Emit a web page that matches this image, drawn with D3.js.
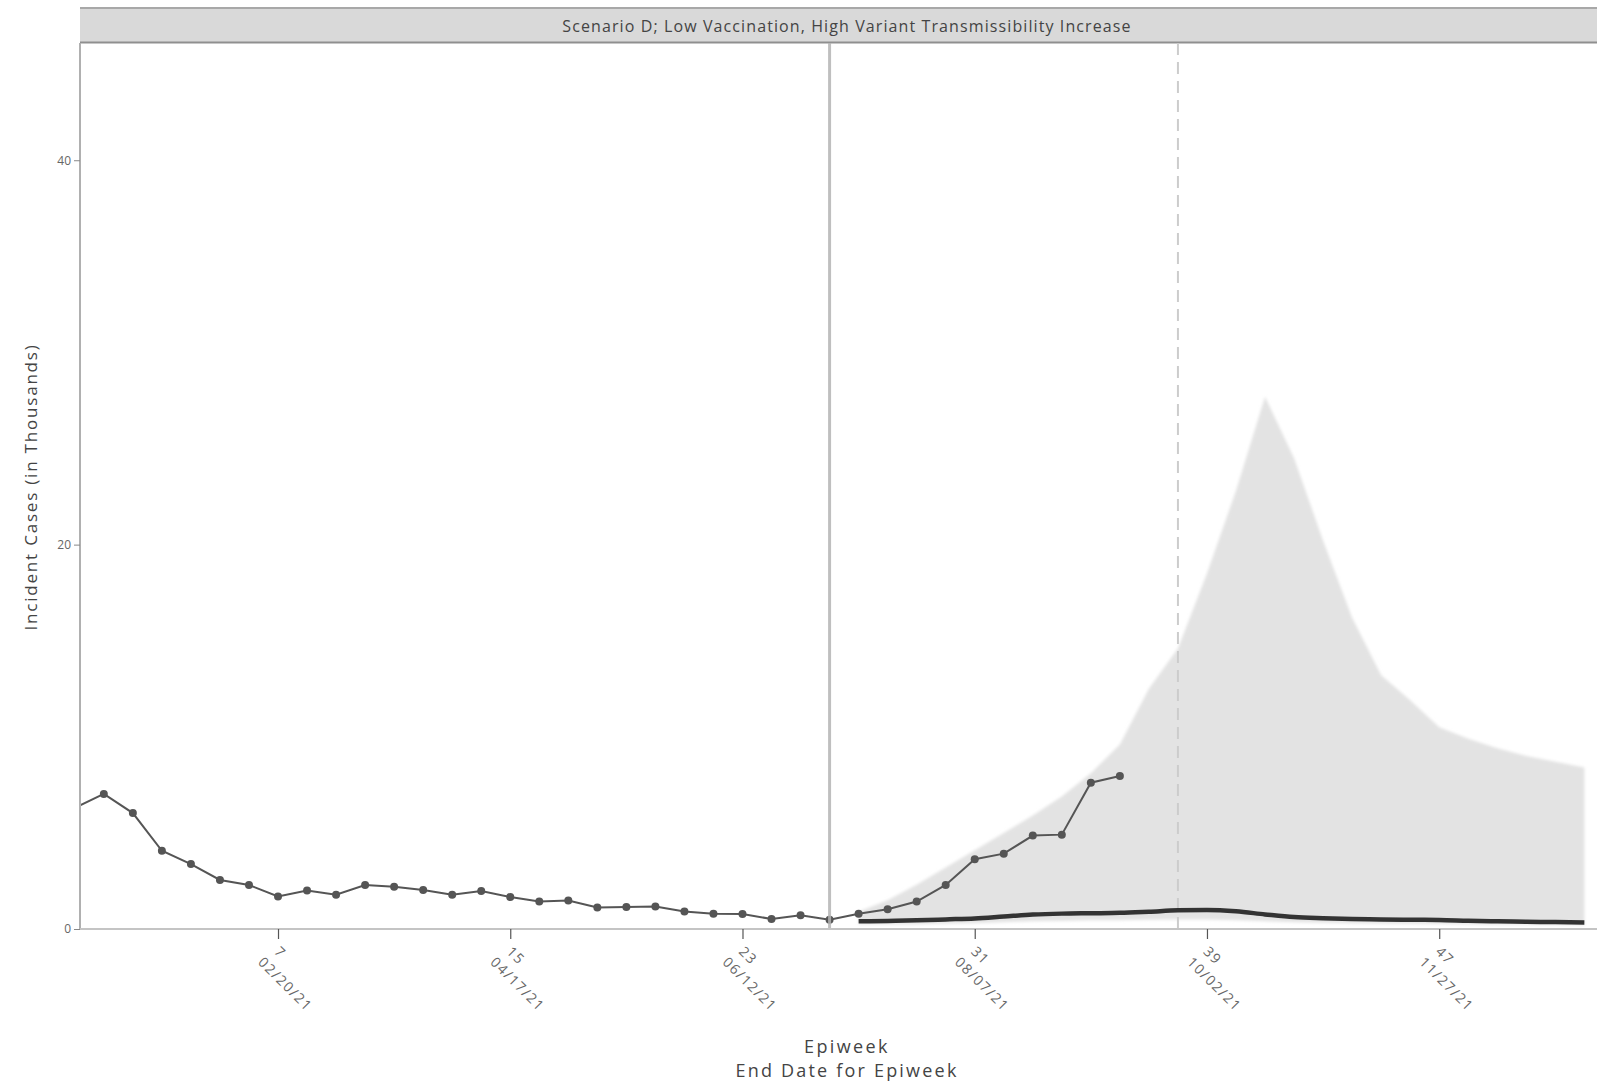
<!DOCTYPE html>
<html>
<head>
<meta charset="utf-8">
<script src="https://cdn.jsdelivr.net/npm/d3@7"></script>
<style>
  html, body { margin: 0; padding: 0; background: #fff; }
  svg { display: block; font-family: "Open Sans", sans-serif; }
</style>
</head>
<body>
<div class="view-container"></div>
<script>
'use strict';

// observed weekly cases (thousands), epiweek index
var obsWeeks = [0, 1, 2, 3, 4, 5, 6, 7, 8, 9, 10, 11, 12, 13, 14, 15, 16, 17, 18,
	19, 20, 21, 22, 23, 24, 25, 26, 27, 28, 29, 30, 31, 32, 33, 34, 35, 36];
var obsCases = [6.3, 7.03, 6.03, 4.07, 3.38, 2.55, 2.29, 1.69, 2.0, 1.78, 2.29, 2.2, 2.03,
	1.78, 1.98, 1.66, 1.43, 1.48, 1.12, 1.14, 1.17, 0.91, 0.79, 0.78, 0.52, 0.71, 0.48,
	0.79, 1.03, 1.43, 2.29, 3.63, 3.92, 4.86, 4.91, 7.61, 7.96];

// projection for scenario D
var projWeeks = [27, 28, 29, 30, 31, 32, 33, 34, 35, 36, 37, 38, 39, 40, 41, 42, 43,
	44, 45, 46, 47, 48, 49, 50, 51, 52];
var projMedian = [0.40, 0.42, 0.45, 0.50, 0.55, 0.65, 0.75, 0.80, 0.82, 0.84, 0.90, 0.97,
	0.99, 0.92, 0.76, 0.62, 0.56, 0.52, 0.50, 0.48, 0.47, 0.43, 0.40, 0.38, 0.36, 0.34];
var projUpper = [0.9, 1.5, 2.3, 3.2, 4.1, 5.0, 5.9, 6.9, 8.1, 9.6, 12.5, 14.6, 18.5, 22.8,
	27.7, 24.5, 20.2, 16.2, 13.2, 11.9, 10.5, 9.9, 9.4, 9.0, 8.7, 8.4];
var projLower = [0.25, 0.25, 0.25, 0.28, 0.30, 0.35, 0.40, 0.42, 0.45, 0.45, 0.48, 0.50,
	0.50, 0.45, 0.40, 0.35, 0.32, 0.30, 0.28, 0.27, 0.26, 0.25, 0.24, 0.23, 0.22, 0.20];

var xTickWeeks = [7, 15, 23, 31, 39, 47];
var xTickDates = ['02/20/21', '04/17/21', '06/12/21', '08/07/21', '10/02/21', '11/27/21'];
var yTicks = [0, 20, 40];

var projectionStartWeek = 26;
var dashedWeek = 38;
var panelTitle = 'Scenario D; Low Vaccination, High Variant Transmissibility Increase';

var WIDTH = 1597, HEIGHT = 1084;
var TEXT = '#444444';
var BAND = '#e3e3e3';
var OBS = '#555555';
var MEDIAN = '#333333';

var plot = { left: 80, right: 1614, top: 43, bottom: 929 };

var x = d3.scaleLinear().domain([0, 53]).range([74.8, 74.8 + 53 * 29.03]);
var y = d3.scaleLinear().domain([0, 46.1]).range([plot.bottom, plot.top]);

var svg = d3.select('.view-container').append('svg')
	.attr('width', WIDTH)
	.attr('height', HEIGHT);

svg.append('rect').attr('width', WIDTH).attr('height', HEIGHT).attr('fill', '#fff');

var defs = svg.append('defs');
defs.append('clipPath').attr('id', 'plot-clip')
	.append('rect')
	.attr('x', plot.left).attr('y', plot.top)
	.attr('width', plot.right - plot.left).attr('height', plot.bottom - plot.top);
defs.append('filter').attr('id', 'soft')
	.attr('x', '-5%').attr('y', '-5%').attr('width', '110%').attr('height', '110%')
	.append('feGaussianBlur').attr('stdDeviation', 1.8);

// facet strip
svg.append('rect')
	.attr('x', plot.left).attr('y', 8)
	.attr('width', plot.right - plot.left).attr('height', 35)
	.attr('fill', '#d9d9d9');
svg.append('line')
	.attr('x1', plot.left).attr('x2', plot.right).attr('y1', 8).attr('y2', 8)
	.attr('stroke', '#a8a8a8').attr('stroke-width', 2);
svg.append('line')
	.attr('x1', plot.left).attr('x2', plot.right).attr('y1', 42.5).attr('y2', 42.5)
	.attr('stroke', '#8f8f8f').attr('stroke-width', 2);
svg.append('text')
	.attr('x', 847).attr('y', 32)
	.attr('text-anchor', 'middle')
	.attr('font-size', 16)
	.attr('letter-spacing', 1.1)
	.attr('fill', TEXT)
	.text(panelTitle);

var g = svg.append('g').attr('clip-path', 'url(#plot-clip)');

var proj = projWeeks.map(function(w, i) {
	return { week: w, median: projMedian[i], lo: projLower[i], hi: projUpper[i] };
});
var obs = obsWeeks.map(function(w, i) {
	return { week: w, value: obsCases[i] };
});

// projection interval
g.append('path')
	.datum(proj)
	.attr('fill', BAND)
	.attr('filter', 'url(#soft)')
	.attr('d', d3.area()
		.x(function(d) { return x(d.week); })
		.y0(function(d) { return y(d.lo); })
		.y1(function(d) { return y(d.hi); }));

// dashed marker
g.append('line')
	.attr('x1', x(dashedWeek)).attr('x2', x(dashedWeek))
	.attr('y1', plot.top).attr('y2', plot.bottom)
	.attr('stroke', '#cccccc')
	.attr('stroke-width', 2)
	.attr('stroke-dasharray', '12,7');

// median projection
g.append('path')
	.datum(proj)
	.attr('fill', 'none')
	.attr('stroke', MEDIAN)
	.attr('stroke-width', 4.5)
	.attr('stroke-linecap', 'butt')
	.attr('d', d3.line()
		.curve(d3.curveMonotoneX)
		.x(function(d) { return x(d.week); })
		.y(function(d) { return y(d.median); }));

// observed
g.append('path')
	.datum(obs)
	.attr('fill', 'none')
	.attr('stroke', OBS)
	.attr('stroke-width', 2)
	.attr('d', d3.line()
		.x(function(d) { return x(d.week); })
		.y(function(d) { return y(d.value); }));

g.selectAll('circle.obs')
	.data(obs)
	.enter().append('circle')
	.attr('class', 'obs')
	.attr('cx', function(d) { return x(d.week); })
	.attr('cy', function(d) { return y(d.value); })
	.attr('r', 4)
	.attr('fill', OBS);

// projection start line
svg.append('line')
	.attr('x1', x(projectionStartWeek)).attr('x2', x(projectionStartWeek))
	.attr('y1', plot.top).attr('y2', plot.bottom)
	.attr('stroke', '#b4b4b4')
	.attr('stroke-opacity', 0.85)
	.attr('stroke-width', 3);

// axes lines
svg.append('line')
	.attr('x1', plot.left).attr('x2', plot.left)
	.attr('y1', plot.top).attr('y2', plot.bottom + 1)
	.attr('stroke', '#b0b0b0').attr('stroke-width', 2);
svg.append('line')
	.attr('x1', plot.left).attr('x2', plot.right)
	.attr('y1', plot.bottom).attr('y2', plot.bottom)
	.attr('stroke', '#c4c4c4').attr('stroke-width', 2);

// y axis ticks
var yAxis = svg.append('g')
	.attr('transform', 'translate(' + plot.left + ',0)')
	.call(d3.axisLeft(y).tickValues(yTicks).tickSize(6).tickPadding(3).tickFormat(d3.format('d')));
yAxis.select('.domain').remove();
yAxis.selectAll('line').attr('stroke', '#888');
yAxis.selectAll('text')
	.attr('font-family', '"Open Sans", sans-serif')
	.attr('font-size', 12)
	.attr('fill', '#666');

// x axis ticks
var xAxis = svg.append('g')
	.attr('transform', 'translate(0,' + plot.bottom + ')')
	.call(d3.axisBottom(x).tickValues(xTickWeeks).tickSize(10).tickFormat(''));
xAxis.select('.domain').remove();
xAxis.selectAll('line').attr('stroke', '#555').attr('stroke-width', 1.2);

var xLabels = svg.append('g').selectAll('text')
	.data(xTickWeeks)
	.enter().append('text')
	.attr('transform', function(d) {
		return 'translate(' + (x(d) - 1) + ',' + (plot.bottom + 20) + ') rotate(45)';
	})
	.attr('font-size', 14)
	.attr('letter-spacing', 1.4)
	.attr('fill', '#666');
xLabels.append('tspan').attr('x', 0).attr('dy', '0.35em').text(function(d) { return d; });
xLabels.append('tspan').attr('x', -4).attr('dy', '1.35em')
	.text(function(d, i) { return xTickDates[i]; });

// axis titles
svg.append('text')
	.attr('transform', 'translate(37,487) rotate(-90)')
	.attr('text-anchor', 'middle')
	.attr('font-size', 17)
	.attr('letter-spacing', 1.8)
	.attr('fill', TEXT)
	.text('Incident Cases (in Thousands)');
svg.append('text')
	.attr('x', 847).attr('y', 1053)
	.attr('text-anchor', 'middle')
	.attr('font-size', 18)
	.attr('letter-spacing', 2.4)
	.attr('fill', TEXT)
	.text('Epiweek');
svg.append('text')
	.attr('x', 847).attr('y', 1077)
	.attr('text-anchor', 'middle')
	.attr('font-size', 18)
	.attr('letter-spacing', 2.2)
	.attr('fill', TEXT)
	.text('End Date for Epiweek');
</script>
</body>
</html>
